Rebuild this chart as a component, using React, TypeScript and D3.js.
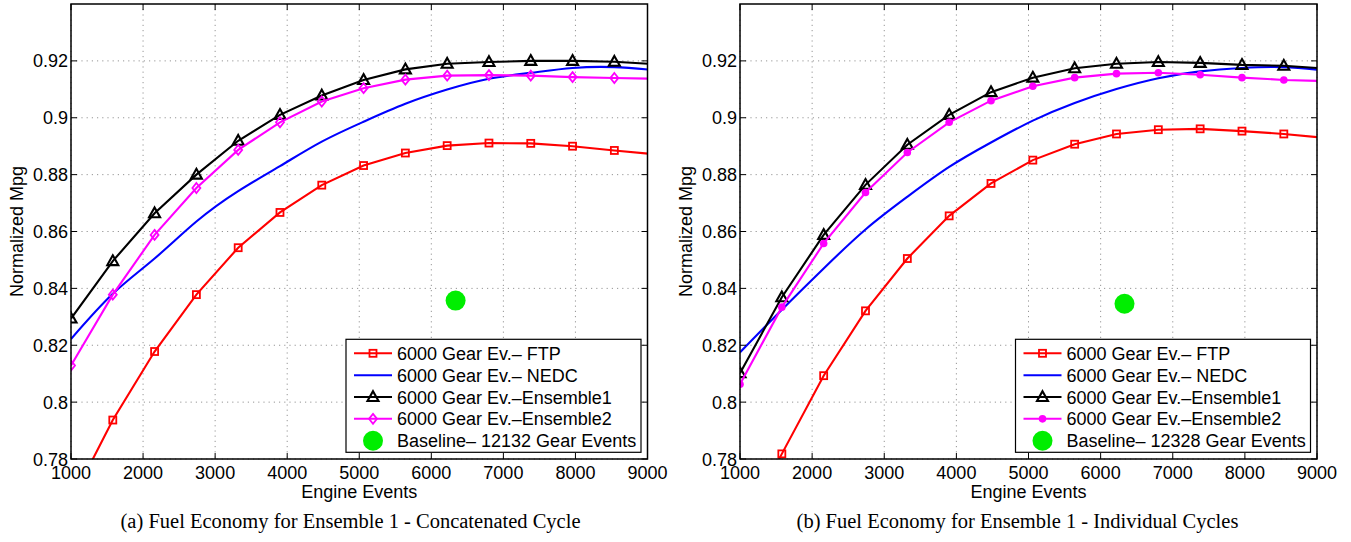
import React from "react";
import * as d3 from "d3";

// ---------- data ----------
const engineEvents = [1000, 1580, 2160, 2740, 3320, 3900, 4480, 5060, 5640, 6220, 6800, 7380, 7960, 8540, 9120];

// (a) concatenated cycle
const ftpA = [0.765, 0.7937, 0.8178, 0.8378, 0.8543, 0.8667, 0.8763, 0.8832, 0.8876, 0.8902, 0.8911, 0.891, 0.89, 0.8885, 0.8871];
const nedcA = [0.8222, 0.8381, 0.8505, 0.8635, 0.8742, 0.883, 0.8916, 0.8986, 0.9049, 0.9099, 0.9137, 0.9158, 0.9175, 0.9178, 0.9167];
const ens1A = [0.8294, 0.8496, 0.8664, 0.88, 0.8919, 0.901, 0.9078, 0.9133, 0.917, 0.919, 0.9196, 0.92, 0.92, 0.9197, 0.9188];
const ens2A = [0.8129, 0.8378, 0.8588, 0.8753, 0.8887, 0.8984, 0.9057, 0.9104, 0.9134, 0.9148, 0.915, 0.9148, 0.9143, 0.914, 0.9137];
const baselineA = { x: 6337, y: 0.8357 };

// (b) individual cycles
const ftpB = [0.754, 0.7818, 0.8093, 0.8321, 0.8505, 0.8655, 0.8769, 0.8851, 0.8907, 0.8943, 0.8958, 0.8961, 0.8953, 0.8943, 0.8929];
const nedcB = [0.8175, 0.8325, 0.847, 0.8607, 0.8722, 0.8827, 0.8913, 0.899, 0.9052, 0.9101, 0.9139, 0.9163, 0.9175, 0.9178, 0.9166];
const ens1B = [0.8102, 0.8369, 0.8588, 0.8764, 0.8905, 0.901, 0.909, 0.9141, 0.9174, 0.919, 0.9196, 0.9193, 0.9186, 0.9183, 0.9173];
const ens2B = [0.8063, 0.8334, 0.8558, 0.8737, 0.8878, 0.8984, 0.906, 0.9111, 0.9141, 0.9155, 0.9158, 0.9151, 0.9141, 0.9133, 0.9129];
const baselineB = { x: 6331, y: 0.8346 };

const xTicks = [1000, 2000, 3000, 4000, 5000, 6000, 7000, 8000, 9000];
const yTicks = [0.78, 0.8, 0.82, 0.84, 0.86, 0.88, 0.9, 0.92];
const yTickLabels = ["0.78", "0.8", "0.82", "0.84", "0.86", "0.88", "0.9", "0.92"];

const legendLabelsSeries = [
  "6000 Gear Ev.\u2013 FTP",
  "6000 Gear Ev.\u2013 NEDC",
  "6000 Gear Ev.\u2013Ensemble1",
  "6000 Gear Ev.\u2013Ensemble2",
];
const baselineLabelA = "Baseline\u2013 12132 Gear Events";
const baselineLabelB = "Baseline\u2013 12328 Gear Events";
const captionA = "(a) Fuel Economy for Ensemble 1 - Concatenated Cycle";
const captionB = "(b) Fuel Economy for Ensemble 1 - Individual Cycles";

const FONT = "'Liberation Sans', Arial, Helvetica, sans-serif";
const RED = "#ff0000";
const BLUE = "#0000ff";
const BLACK = "#000000";
const MAGENTA = "#ff00ff";
const GREEN = "#00ee00";

type MarkerKind = "square" | "triangle" | "diamond" | "dot" | "none";

function Marker({ kind, x, y, color }: { kind: MarkerKind; x: number; y: number; color: string }) {
  if (kind === "square") {
    const s = 7;
    return <rect x={x - s / 2} y={y - s / 2} width={s} height={s} fill="none" stroke={color} strokeWidth={1.8} />;
  }
  if (kind === "triangle") {
    const w = 5.5;
    const pts = `${x},${y - 5.8} ${x + w},${y + 4} ${x - w},${y + 4}`;
    return <polygon points={pts} fill="none" stroke={color} strokeWidth={2.1} strokeLinejoin="miter" />;
  }
  if (kind === "diamond") {
    const pts = `${x},${y - 5} ${x + 4},${y} ${x},${y + 5} ${x - 4},${y}`;
    return <polygon points={pts} fill="none" stroke={color} strokeWidth={1.8} />;
  }
  if (kind === "dot") {
    return <circle cx={x} cy={y} r={3.8} fill={color} />;
  }
  return null;
}

interface SeriesDef {
  values: number[];
  color: string;
  marker: MarkerKind;
  smooth?: boolean;
}

function Panel({
  id,
  left,
  right,
  series,
  baseline,
  baselineLabel,
  caption,
  captionX,
}: {
  id: string;
  left: number;
  right: number;
  series: SeriesDef[];
  baseline: { x: number; y: number };
  baselineLabel: string;
  caption: string;
  captionX: number;
}) {
  const top = 4;
  const bottom = 459;
  const x = d3.scaleLinear().domain([1000, 9000]).range([left, right]);
  const y = d3.scaleLinear().domain([0.78, 0.94]).range([bottom, top]);
  const tick = 6;

  const legW = 295;
  const legH = 113;
  const legX = right - 6.5 - legW;
  const legY = bottom - 6.7 - legH;
  const rowY = (i: number) => legY + 14 + i * 21.85;
  const legendLabels = [...legendLabelsSeries, baselineLabel];

  return (
    <g>
      <defs>
        <clipPath id={`clip-${id}`}>
          <rect x={left} y={top} width={right - left} height={bottom - top} />
        </clipPath>
      </defs>
      <rect x={left} y={top} width={right - left} height={bottom - top} fill="#ffffff" />
      {/* grid */}
      {xTicks.map((t) => (
        <line key={`gx${t}`} x1={x(t)} x2={x(t)} y1={top} y2={bottom} stroke="#8a8a8a" strokeWidth={0.9} strokeDasharray="1.2 4" />
      ))}
      {yTicks.map((t) => (
        <line key={`gy${t}`} x1={left} x2={right} y1={y(t)} y2={y(t)} stroke="#8a8a8a" strokeWidth={0.9} strokeDasharray="1.2 4" />
      ))}
      {/* series */}
      <g clipPath={`url(#clip-${id})`}>
        {series.map((s, si) => {
          const line = d3
            .line<number>()
            .x((_, i) => x(engineEvents[i]))
            .y((v) => y(v))
            .curve(s.smooth ? d3.curveNatural : d3.curveLinear);
          return (
            <g key={si}>
              <path d={line(s.values) || ""} fill="none" stroke={s.color} strokeWidth={2.1} />
              {s.values.map((v, i) => (
                <Marker key={i} kind={s.marker} x={x(engineEvents[i])} y={y(v)} color={s.color} />
              ))}
            </g>
          );
        })}
        <circle cx={x(baseline.x)} cy={y(baseline.y)} r={10} fill={GREEN} />
      </g>
      {/* axes box */}
      <rect x={left} y={top} width={right - left} height={bottom - top} fill="none" stroke="#000" strokeWidth={1.5} />
      {xTicks.map((t) => (
        <g key={`tx${t}`}>
          <line x1={x(t)} x2={x(t)} y1={bottom} y2={bottom - tick} stroke="#000" strokeWidth={1} />
          <line x1={x(t)} x2={x(t)} y1={top} y2={top + tick} stroke="#000" strokeWidth={1} />
          <text x={x(t)} y={479} textAnchor="middle" fontFamily={FONT} fontSize={18} fill="#000">
            {t}
          </text>
        </g>
      ))}
      {yTicks.map((t, i) => (
        <g key={`ty${t}`}>
          <line x1={left} x2={left + tick} y1={y(t)} y2={y(t)} stroke="#000" strokeWidth={1} />
          <line x1={right} x2={right - tick} y1={y(t)} y2={y(t)} stroke="#000" strokeWidth={1} />
          <text x={left - 3} y={y(t) + 6.5} textAnchor="end" fontFamily={FONT} fontSize={18} fill="#000">
            {yTickLabels[i]}
          </text>
        </g>
      ))}
      {/* axis labels */}
      <text x={(left + right) / 2} y={498} textAnchor="middle" fontFamily={FONT} fontSize={18} fill="#000">
        Engine Events
      </text>
      <text
        transform={`translate(${left - 48},${(top + bottom) / 2}) rotate(-90)`}
        textAnchor="middle"
        fontFamily={FONT}
        fontSize={18}
        fill="#000"
      >
        Normalized Mpg
      </text>
      {/* legend */}
      <rect x={legX} y={legY} width={legW} height={legH} fill="#ffffff" stroke="#000" strokeWidth={1.2} />
      {series.map((s, i) => (
        <g key={`lg${i}`}>
          <line x1={legX + 8} x2={legX + 46} y1={rowY(i)} y2={rowY(i)} stroke={s.color} strokeWidth={2} />
          <Marker kind={s.marker} x={legX + 27} y={rowY(i)} color={s.color} />
        </g>
      ))}
      <circle cx={legX + 27} cy={rowY(4)} r={10} fill={GREEN} />
      {legendLabels.map((l, i) => (
        <text key={`lt${i}`} x={legX + 51} y={rowY(i) + 6.5} fontFamily={FONT} fontSize={18} fill="#000">
          {l}
        </text>
      ))}
      {/* caption */}
      <text x={captionX} y={528} textAnchor="middle" fontFamily="'Liberation Serif', 'Times New Roman', Times, serif" fontSize={20.5} fill="#000">
        {caption}
      </text>
    </g>
  );
}

export default function App() {
  const seriesA: SeriesDef[] = [
    { values: ftpA, color: RED, marker: "square" },
    { values: nedcA, color: BLUE, marker: "none", smooth: true },
    { values: ens1A, color: BLACK, marker: "triangle" },
    { values: ens2A, color: MAGENTA, marker: "diamond" },
  ];
  const seriesB: SeriesDef[] = [
    { values: ftpB, color: RED, marker: "square" },
    { values: nedcB, color: BLUE, marker: "none", smooth: true },
    { values: ens1B, color: BLACK, marker: "triangle" },
    { values: ens2B, color: MAGENTA, marker: "dot" },
  ];
  return (
    <svg
      width={1351}
      height={542}
      viewBox="0 0 1351 542"
      style={{ position: "absolute", left: 0, top: 0, background: "#ffffff" }}
    >
      <rect x={0} y={0} width={1351} height={542} fill="#ffffff" />
      <Panel
        id="a"
        left={71}
        right={647.5}
        series={seriesA}
        baseline={baselineA}
        baselineLabel={baselineLabelA}
        caption={captionA}
        captionX={350.5}
      />
      <Panel
        id="b"
        left={740}
        right={1317}
        series={seriesB}
        baseline={baselineB}
        baselineLabel={baselineLabelB}
        caption={captionB}
        captionX={1017.5}
      />
    </svg>
  );
}
